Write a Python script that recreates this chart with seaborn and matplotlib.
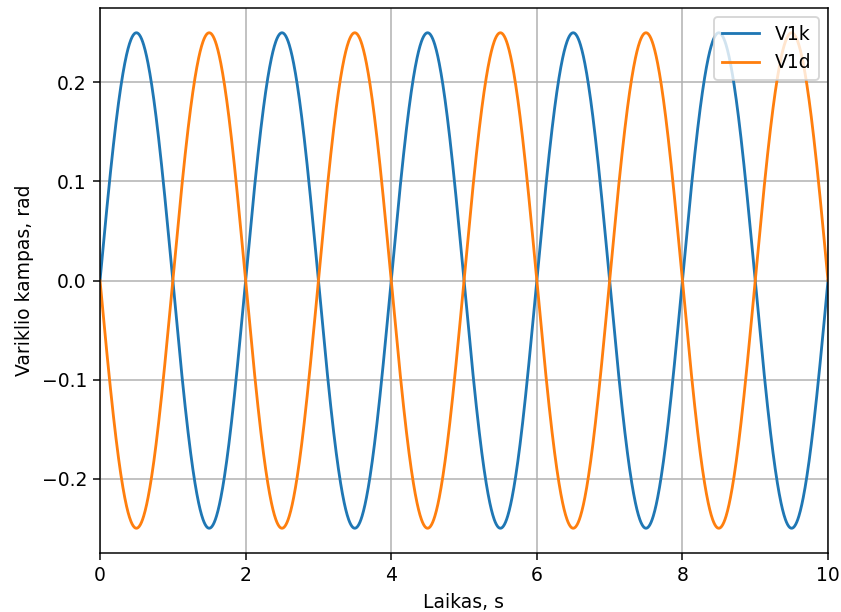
import numpy as np
import pandas as pd
import matplotlib
matplotlib.use("Agg")
import matplotlib.pyplot as plt
import seaborn as sns

# Values: both signals are sinusoids
amplitude = 0.25        # rad, peak value
period = 2.0            # s
t_end = 10.0            # s
series_names = ["V1k", "V1d"]
series_signs = [1.0, -1.0]
x_label = "Laikas, s"
y_label = "Variklio kampas, rad"

t = np.linspace(0, t_end, 2001)
frames = []
for name, sgn in zip(series_names, series_signs):
    frames.append(pd.DataFrame({"t": t,
                                "v": sgn * amplitude * np.sin(2 * np.pi * t / period),
                                "series": name}))
df = pd.concat(frames, ignore_index=True)

DPI = 135
fig = plt.figure(figsize=(841 / DPI, 612 / DPI), dpi=DPI)
ax = fig.add_axes([100 / 841, 1 - 553 / 612, 728 / 841, 545 / 612])
sns.lineplot(data=df, x="t", y="v", hue="series", palette=["#1f77b4", "#ff7f0e"],
             ax=ax, linewidth=1.5, estimator=None, sort=False)
ax.set_xlim(0, t_end)
ax.set_ylim(-0.275, 0.275)
ax.set_xlabel(x_label)
ax.set_ylabel(y_label)
ax.grid(True, color="#b0b0b0", linewidth=0.8)
ax.legend(loc="upper right", title=None)
fig.savefig("out.png", dpi=DPI)
